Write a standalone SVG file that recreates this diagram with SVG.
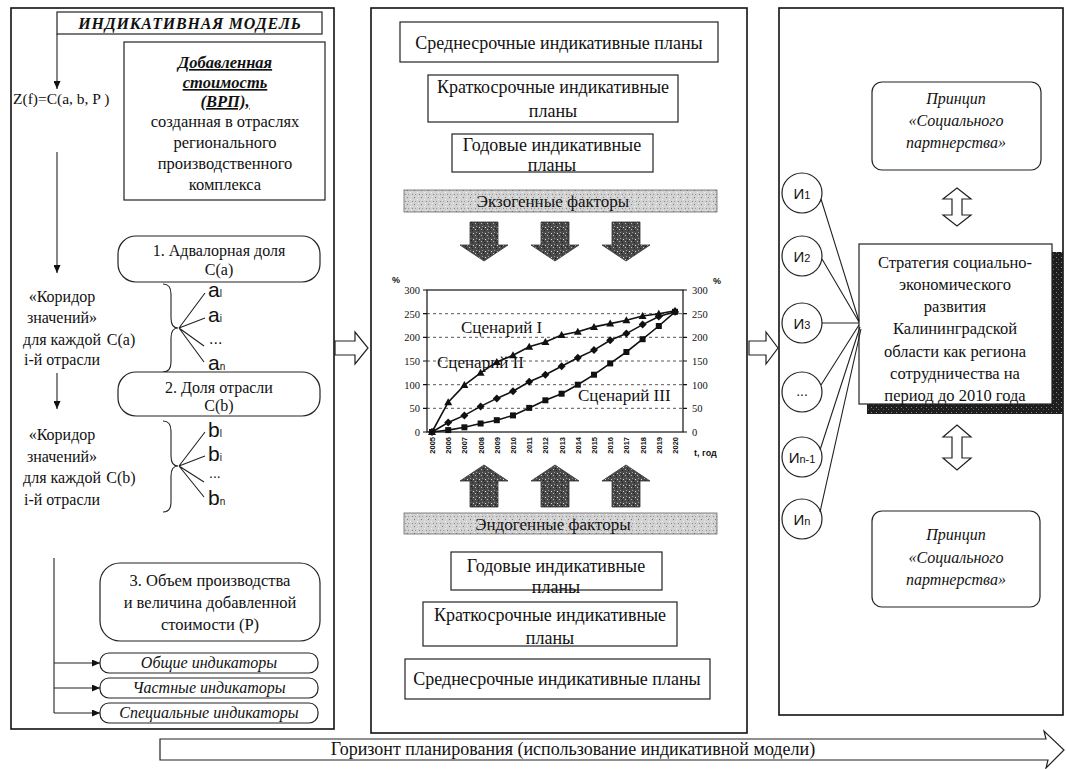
<svg xmlns="http://www.w3.org/2000/svg" width="1066" height="769" viewBox="0 0 1066 769">
<style>
.s{font-family:"Liberation Serif","Times New Roman",serif;fill:#111}
.ss{font-family:"Liberation Sans",Arial,sans-serif;fill:#111}
.c{text-anchor:middle}
.bx{fill:#fff;stroke:#222;stroke-width:1.2}
.pn{fill:#fff;stroke:#111;stroke-width:1.6}
.ln{stroke:#222;stroke-width:1.1;fill:none}
.grid{stroke:#444;stroke-width:0.9;stroke-dasharray:3 3}
.ax{stroke:#111;stroke-width:1.2;fill:none}
.ser{stroke:#111;stroke-width:1.6;fill:none}
.tk{font-family:"Liberation Serif","Times New Roman",serif;font-size:10.5px;fill:#111}
.yr{font-family:"Liberation Sans",Arial,sans-serif;font-size:7.5px;font-weight:bold;fill:#111}
</style>
<defs>
<marker id="ah" markerUnits="userSpaceOnUse" markerWidth="9" markerHeight="7" refX="8" refY="3.5" orient="auto"><path d="M0,0 L8,3.5 L0,7 Z" fill="#111"/></marker>
<marker id="mt" markerUnits="userSpaceOnUse" markerWidth="9" markerHeight="9" refX="4.5" refY="4.5"><path d="M4.5,0.5 L8.5,7.5 L0.5,7.5 Z" fill="#111"/></marker>
<marker id="md" markerUnits="userSpaceOnUse" markerWidth="9" markerHeight="9" refX="4.5" refY="4.5"><path d="M4.5,0.5 L8.5,4.5 L4.5,8.5 L0.5,4.5 Z" fill="#111"/></marker>
<marker id="ms" markerUnits="userSpaceOnUse" markerWidth="8" markerHeight="8" refX="4" refY="4"><rect x="1" y="1" width="6" height="6" fill="#111"/></marker>
<pattern id="light" width="7" height="7" patternUnits="userSpaceOnUse"><rect width="7" height="7" fill="#d2d2d2"/><rect x="1" y="1" width="1" height="1" fill="#7a7a7a"/><rect x="4" y="3" width="1" height="1" fill="#f4f4f4"/><rect x="2" y="5" width="1" height="1" fill="#999"/><rect x="5" y="0" width="1" height="1" fill="#eee"/><rect x="6" y="5" width="1" height="1" fill="#8a8a8a"/></pattern>
<pattern id="dark" width="6" height="6" patternUnits="userSpaceOnUse"><rect width="6" height="6" fill="#4a4a4a"/><rect x="1" y="1" width="1" height="1" fill="#bbb"/><rect x="4" y="2" width="1" height="1" fill="#222"/><rect x="2" y="4" width="1" height="1" fill="#999"/><rect x="5" y="5" width="1" height="1" fill="#ddd"/><rect x="3" y="0" width="1" height="1" fill="#1a1a1a"/></pattern>
<pattern id="shadow" width="5" height="5" patternUnits="userSpaceOnUse"><rect width="5" height="5" fill="#1e1e1e"/><rect x="1" y="2" width="1" height="1" fill="#888"/><rect x="3" y="4" width="1" height="1" fill="#666"/></pattern>
</defs>
<rect width="1066" height="769" fill="#fff"/>

<!-- LEFT PANEL -->
<g id="left-panel">
<rect class="pn" x="11" y="8" width="323" height="721"/>
</g>
<g id="title">
<rect class="bx" x="57" y="12" width="265" height="22"/>
<text class="s c" x="190" y="29" font-size="16" font-weight="bold" font-style="italic" letter-spacing="0.8">ИНДИКАТИВНАЯ МОДЕЛЬ</text>
</g>
<g id="formula">
<text class="s" x="13" y="104" font-size="15.5">Z(f)=C(a, b, P )</text>
</g>
<g id="vrp">
<rect class="bx" x="124" y="42" width="201" height="158"/>
<text class="s c" x="225" y="68" font-size="16.5" font-weight="bold" font-style="italic" text-decoration="underline">Добавленная</text>
<text class="s c" x="225" y="88" font-size="16.5" font-weight="bold" font-style="italic" text-decoration="underline">стоимость</text>
<text class="s c" x="225" y="107" font-size="16.5" font-weight="bold" font-style="italic" text-decoration="underline">(ВРП),</text>
<text class="s c" x="225" y="127" font-size="16.5">созданная в отраслях</text>
<text class="s c" x="225" y="148" font-size="16.5">регионального</text>
<text class="s c" x="225" y="169" font-size="16.5">производственного</text>
<text class="s c" x="225" y="190" font-size="16.5">комплекса</text>
</g>
<g id="box1">
<rect class="bx" x="118" y="236" width="202" height="46" rx="18"/>
<text class="s c" x="219" y="256" font-size="16">1. Адвалорная доля</text>
<text class="s c" x="219" y="275" font-size="16">C(a)</text>
</g>
<g id="corridor-a">
<text class="s c" x="62" y="302" font-size="16">«Коридор</text>
<text class="s c" x="62" y="323" font-size="16">значений»</text>
<text class="s c" x="62" y="345" font-size="16">для каждой</text>
<text class="s c" x="62" y="365" font-size="16">i-й отрасли</text>
<text class="s c" x="121" y="345" font-size="16">C(a)</text>
<path class="ln" d="M163,284 Q171,284 171,294 L171,318 Q171,328 178,328 Q171,328 171,338 L171,362 Q171,372 163,372"/>
<path class="ln" d="M179,328 L205,293 M179,328 L205,318 M179,328 L204,346 M179,328 L204,362"/>
<text class="ss" x="208" y="297" font-size="21">a<tspan font-size="10">l</tspan></text>
<text class="ss" x="208" y="322" font-size="21">a<tspan font-size="10">i</tspan></text>
<text class="ss" x="209" y="344" font-size="16">...</text>
<text class="ss" x="208" y="370" font-size="21">a<tspan font-size="10">n</tspan></text>
</g>
<g id="box2">
<rect class="bx" x="118" y="372" width="202" height="44" rx="18"/>
<text class="s c" x="219" y="393" font-size="16">2. Доля отрасли</text>
<text class="s c" x="219" y="411" font-size="16">C(b)</text>
</g>
<g id="corridor-b">
<text class="s c" x="62" y="440" font-size="16">«Коридор</text>
<text class="s c" x="62" y="462" font-size="16">значений»</text>
<text class="s c" x="62" y="483" font-size="16">для каждой</text>
<text class="s c" x="62" y="505" font-size="16">i-й отрасли</text>
<text class="s c" x="121" y="483" font-size="16">C(b)</text>
<path class="ln" d="M163,421 Q171,421 171,431 L171,456 Q171,466 178,466 Q171,466 171,476 L171,502 Q171,512 163,512"/>
<path class="ln" d="M179,466 L205,432 M179,466 L205,456 M179,466 L204,482 M179,466 L204,497"/>
<text class="ss" x="208" y="437" font-size="21">b<tspan font-size="10">l</tspan></text>
<text class="ss" x="208" y="461" font-size="21">b<tspan font-size="10">i</tspan></text>
<text class="ss" x="209" y="478" font-size="14">...</text>
<text class="ss" x="208" y="505" font-size="21">b<tspan font-size="10">n</tspan></text>
</g>
<g id="box3">
<rect class="bx" x="100" y="563" width="220" height="78" rx="20"/>
<text class="s c" x="210" y="586" font-size="16.5">3. Объем производства</text>
<text class="s c" x="210" y="608" font-size="16.5">и величина  добавленной</text>
<text class="s c" x="210" y="630" font-size="16.5">стоимости (P)</text>
</g>
<g id="ind1"><rect class="bx" x="100" y="653" width="218" height="20" rx="9"/><text class="s c" x="209" y="668" font-size="16" font-style="italic">Общие индикаторы</text></g>
<g id="ind2"><rect class="bx" x="100" y="678" width="218" height="20" rx="9"/><text class="s c" x="209" y="693" font-size="16" font-style="italic">Частные индикаторы</text></g>
<g id="ind3"><rect class="bx" x="100" y="703" width="218" height="20" rx="9"/><text class="s c" x="209" y="718" font-size="16" font-style="italic">Специальные индикаторы</text></g>

<!-- MIDDLE PANEL -->
<g id="middle-panel">
<rect class="pn" x="371" y="8" width="376" height="725"/>
</g>
<g id="mid-medium-top"><rect class="bx" x="400" y="22" width="318" height="40"/><text class="s c" x="559" y="49" font-size="18">Среднесрочные индикативные планы</text></g>
<g id="mid-short-top"><rect class="bx" x="428" y="75" width="250" height="47"/><text class="s c" x="553" y="93" font-size="18">Краткосрочные индикативные</text><text class="s c" x="553" y="117" font-size="18">планы</text></g>
<g id="mid-annual-top"><rect class="bx" x="452" y="134" width="201" height="38"/><text class="s c" x="552" y="151" font-size="18">Годовые индикативные</text><text class="s c" x="552" y="171" font-size="18">планы</text></g>
<g id="exo"><rect x="404" y="190" width="313" height="22" fill="url(#light)" stroke="#666" stroke-width="0.8"/><text class="s c" x="553" y="207" font-size="17">Экзогенные факторы</text></g>
<g id="exo-arrows" fill="url(#dark)" stroke="#333" stroke-width="0.8">
<path d="M470,222 H498 V245 H508 L484,261 L460,245 H470 Z"/>
<path d="M541,222 H569 V245 H579 L555,261 L531,245 H541 Z"/>
<path d="M612,222 H640 V245 H650 L626,261 L602,245 H612 Z"/>
</g>
<g id="chart">
<text class="ss" x="392" y="283" font-size="9" font-weight="bold">%</text>
<text class="ss" x="713" y="284" font-size="9" font-weight="bold">%</text>
<line class="grid" x1="427" y1="313.7" x2="683" y2="313.7"/>
<line class="grid" x1="427" y1="337.3" x2="683" y2="337.3"/>
<line class="grid" x1="427" y1="361" x2="683" y2="361"/>
<line class="grid" x1="427" y1="384.7" x2="683" y2="384.7"/>
<line class="grid" x1="427" y1="408.3" x2="683" y2="408.3"/>
<rect class="ax" x="427" y="290" width="256" height="142"/>
<path class="ax" d="M423,290H427M423,313.7H427M423,337.3H427M423,361H427M423,384.7H427M423,408.3H427M423,432H427M683,290H687M683,313.7H687M683,337.3H687M683,361H687M683,384.7H687M683,408.3H687M683,432H687"/>
<g class="tk" text-anchor="end">
<text x="420" y="294">300</text><text x="420" y="317.5">250</text><text x="420" y="341">200</text><text x="420" y="365">150</text><text x="420" y="388.5">100</text><text x="420" y="412">50</text><text x="420" y="436">0</text>
</g>
<g class="tk">
<text x="692" y="294">300</text><text x="692" y="317.5">250</text><text x="692" y="341">200</text><text x="692" y="365">150</text><text x="692" y="388.5">100</text><text x="692" y="412">50</text><text x="692" y="436">0</text>
</g>
<g class="yr" text-anchor="end">
<text transform="translate(435,437) rotate(-90)">2005</text>
<text transform="translate(451.2,437) rotate(-90)">2006</text>
<text transform="translate(467.4,437) rotate(-90)">2007</text>
<text transform="translate(483.6,437) rotate(-90)">2008</text>
<text transform="translate(499.8,437) rotate(-90)">2009</text>
<text transform="translate(516,437) rotate(-90)">2010</text>
<text transform="translate(532.2,437) rotate(-90)">2011</text>
<text transform="translate(548.4,437) rotate(-90)">2012</text>
<text transform="translate(564.6,437) rotate(-90)">2013</text>
<text transform="translate(580.8,437) rotate(-90)">2014</text>
<text transform="translate(597,437) rotate(-90)">2015</text>
<text transform="translate(613.2,437) rotate(-90)">2016</text>
<text transform="translate(629.4,437) rotate(-90)">2017</text>
<text transform="translate(645.6,437) rotate(-90)">2018</text>
<text transform="translate(661.8,437) rotate(-90)">2019</text>
<text transform="translate(678,437) rotate(-90)">2020</text>
</g>
<text class="ss" x="694" y="456" font-size="9" font-weight="bold">t, год</text>
<polyline class="ser" marker-start="url(#mt)" marker-mid="url(#mt)" marker-end="url(#mt)" points="432,432 448.2,402.2 464.4,385.1 480.6,372.8 496.8,362 513,355.3 529.2,346.8 545.4,342.1 561.6,335 577.8,331.7 594,326.9 610.2,323.6 626.4,320.3 642.6,316 658.8,313.7 675,310.8"/>
<polyline class="ser" marker-start="url(#md)" marker-mid="url(#md)" marker-end="url(#md)" points="432,432 448.2,422.5 464.4,415.4 480.6,406.4 496.8,398.4 513,391.3 529.2,381.8 545.4,374.7 561.6,366.2 577.8,357.7 594,350.1 610.2,340.2 626.4,333.6 642.6,324.6 658.8,316.5 675,311.8"/>
<polyline class="ser" marker-start="url(#ms)" marker-mid="url(#ms)" marker-end="url(#ms)" points="432,432 448.2,430.1 464.4,427.3 480.6,423.5 496.8,420.2 513,415.4 529.2,407.9 545.4,400.3 561.6,393.7 577.8,384.7 594,374.7 610.2,363.4 626.4,352 642.6,339.2 658.8,326 675,311.8"/>
<text class="s" x="461" y="333" font-size="17">Сценарий I</text>
<text class="s" x="437" y="368" font-size="17">Сценарий II</text>
<text class="s" x="578" y="401" font-size="17">Сценарий III</text>
</g>
<g id="endo-arrows" fill="url(#dark)" stroke="#333" stroke-width="0.8">
<path d="M484,465 L508,481 H498 V507 H470 V481 H460 Z"/>
<path d="M555,465 L579,481 H569 V507 H541 V481 H531 Z"/>
<path d="M626,465 L650,481 H640 V507 H612 V481 H602 Z"/>
</g>
<g id="endo"><rect x="404" y="513" width="313" height="21" fill="url(#light)" stroke="#666" stroke-width="0.8"/><text class="s c" x="553" y="530" font-size="17">Эндогенные факторы</text></g>
<g id="mid-annual-bot"><rect class="bx" x="451" y="552" width="211" height="38"/><text class="s c" x="556" y="572" font-size="18">Годовые индикативные</text><text class="s c" x="556" y="593" font-size="18">планы</text></g>
<g id="mid-short-bot"><rect class="bx" x="423" y="602" width="254" height="44"/><text class="s c" x="550" y="621" font-size="18">Краткосрочные индикативные</text><text class="s c" x="550" y="644" font-size="18">планы</text></g>
<g id="mid-medium-bot"><rect class="bx" x="405" y="659" width="305" height="40"/><text class="s c" x="557" y="685" font-size="18">Среднесрочные индикативные планы</text></g>

<!-- RIGHT PANEL -->
<g id="right-panel">
<rect class="pn" x="779" y="8" width="284" height="707"/>
</g>
<g id="principle-top"><rect class="bx" x="872" y="82" width="169" height="88" rx="10"/>
<text class="s c" x="956" y="104" font-size="16" font-style="italic">Принцип</text>
<text class="s c" x="956" y="126" font-size="16" font-style="italic">«Социального</text>
<text class="s c" x="956" y="148" font-size="16" font-style="italic">партнерства»</text></g>
<g id="strategy">
<path d="M1052,252 H1063 V414 H867 V404 H1052 Z" fill="url(#shadow)"/>
<rect class="bx" x="859" y="244" width="193" height="160"/>
<text class="s c" x="955" y="268" font-size="16.5">Стратегия социально-</text>
<text class="s c" x="955" y="290" font-size="16.5">экономического</text>
<text class="s c" x="955" y="312" font-size="16.5">развития</text>
<text class="s c" x="955" y="334" font-size="16.5">Калининградской</text>
<text class="s c" x="955" y="357" font-size="16.5">области как региона</text>
<text class="s c" x="955" y="379" font-size="16.5">сотрудничества на</text>
<text class="s c" x="955" y="401" font-size="16.5">период до 2010 года</text>
</g>
<g id="principle-bot"><rect class="bx" x="872" y="511" width="168" height="96" rx="10"/>
<text class="s c" x="956" y="540" font-size="16" font-style="italic">Принцип</text>
<text class="s c" x="956" y="563" font-size="16" font-style="italic">«Социального</text>
<text class="s c" x="956" y="585" font-size="16" font-style="italic">партнерства»</text></g>
<g id="i1"><circle class="bx" cx="802" cy="193" r="20"/><text class="ss c" x="802" y="199" font-size="15">И<tspan font-size="11">1</tspan></text></g>
<g id="i2"><circle class="bx" cx="802" cy="256" r="20"/><text class="ss c" x="802" y="262" font-size="15">И<tspan font-size="11">2</tspan></text></g>
<g id="i3"><circle class="bx" cx="802" cy="323" r="20"/><text class="ss c" x="802" y="329" font-size="15">И<tspan font-size="11">3</tspan></text></g>
<g id="idots"><circle class="bx" cx="802" cy="392" r="20"/><text class="ss c" x="802" y="396" font-size="14">...</text></g>
<g id="in1"><circle class="bx" cx="802" cy="457" r="20"/><text class="ss c" x="802" y="463" font-size="15">И<tspan font-size="11">n-1</tspan></text></g>
<g id="in"><circle class="bx" cx="802" cy="519" r="20"/><text class="ss c" x="802" y="525" font-size="15">И<tspan font-size="11">n</tspan></text></g>

<!-- CONNECTORS -->
<g id="connectors">
<line class="ln" x1="57" y1="34" x2="57" y2="89" marker-end="url(#ah)"/>
<line class="ln" x1="57" y1="152" x2="57" y2="273" marker-end="url(#ah)"/>
<line class="ln" x1="57" y1="373" x2="57" y2="409" marker-end="url(#ah)"/>
<path class="ln" d="M54,558 V713"/>
<line class="ln" x1="54" y1="663" x2="100" y2="663" marker-end="url(#ah)"/>
<line class="ln" x1="54" y1="688" x2="100" y2="688" marker-end="url(#ah)"/>
<line class="ln" x1="54" y1="713" x2="100" y2="713" marker-end="url(#ah)"/>
<path class="bx" d="M335,341 H355 V332 L368,348 L355,364 V355 H335 Z"/>
<path class="bx" d="M749,341 H766 V332 L778,348 L766,364 V355 H749 Z"/>
<path class="bx" d="M957,188 L971,199 H962 V215 H971 L957,226 L943,215 H952 V199 H943 Z"/>
<path class="bx" d="M957,425 L971,437 H962 V458 H971 L957,470 L943,458 H952 V437 H943 Z"/>
<path class="ln" d="M821,199 L859,321 M822,259 L859,322 M822,323 L859,323 M821,385 L859,325 M820,450 L860,327 M820,512 L861,329"/>
<path class="bx" d="M160,739 H1046 L1044,731 L1064,750 L1046,768 L1048,760 H160 Z"/>
<text class="s c" x="573" y="755" font-size="18">Горизонт планирования (использование индикативной модели)</text>
</g>
</svg>
